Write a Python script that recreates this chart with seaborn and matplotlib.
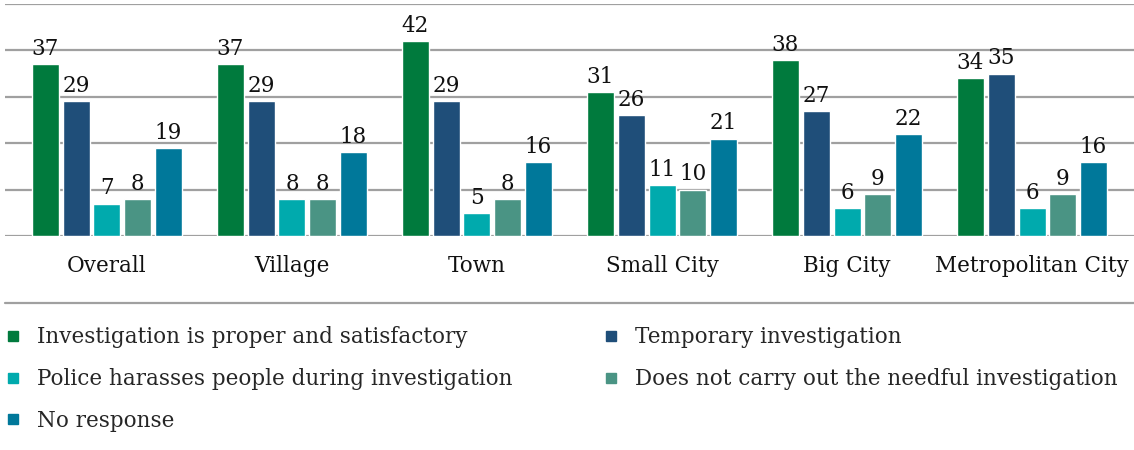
import pandas as pd
import matplotlib.pyplot as plt
import seaborn as sns
from matplotlib.lines import Line2D

# Daten
areas = ["Overall", "Village", "Town", "Small City", "Big City", "Metropolitan City"]
responses = [
    "Investigation is proper and satisfactory",
    "Temporary investigation",
    "Police harasses people during investigation",
    "Does not carry out the needful investigation",
    "No response",
]
proper = [37, 37, 42, 31, 38, 34]
temporary = [29, 29, 29, 26, 27, 35]
harasses = [7, 8, 5, 11, 6, 6]
not_needful = [8, 8, 8, 10, 9, 9]
no_response = [19, 18, 16, 21, 22, 16]

colors = ["#007A3D", "#1F4E79", "#00AAAD", "#4A9484", "#00789A"]

rows = []
for name, vals in zip(responses, [proper, temporary, harasses, not_needful, no_response]):
    for a, v in zip(areas, vals):
        rows.append({"area": a, "response": name, "value": v})
df = pd.DataFrame(rows)

sns.set_style("white")
plt.rcParams["font.family"] = ["DejaVu Serif"]
fs = 15.5

fig = plt.figure(figsize=(11.34, 4.5), dpi=100)
ax = fig.add_axes([5 / 1134, 214 / 450, 1 - 5 / 1134, 232 / 450])

sns.barplot(data=df, x="area", y="value", hue="response", hue_order=responses,
            order=areas, palette=colors, width=0.831, gap=0.122, ax=ax,
            legend=False, saturation=1, errorbar=None)

for c in ax.containers:
    ax.bar_label(c, fontsize=fs, padding=3, color="#111111")

ax.set_ylim(0, 50)
ax.set_xlim(-0.551, 5.551)
ax.set_yticks(range(0, 51, 10))
ax.set_yticklabels([])
ax.yaxis.grid(True, color="#A0A0A0", linewidth=1.6)
ax.set_axisbelow(True)
for s in ax.spines.values():
    s.set_visible(False)
ax.tick_params(axis="both", length=0)
ax.tick_params(axis="x", labelsize=fs, pad=14, colors="#111111")
ax.set_xlabel("")
ax.set_ylabel("")

# Trennlinie ueber der Legende
fig.add_artist(Line2D([5 / 1134, 1], [1 - 303 / 450] * 2, transform=fig.transFigure,
                      color="#A0A0A0", linewidth=1.6))

handles = [Line2D([], [], marker="s", linestyle="", markersize=7, color=colors[i])
           for i in [0, 2, 4, 1, 3]]
labels = [responses[i] for i in [0, 2, 4, 1, 3]]
fig.legend(handles, labels, ncol=2, loc="upper left", bbox_to_anchor=(0.0, 1 - 320 / 450),
           frameon=False, fontsize=fs, handlelength=0.6, handletextpad=0.8,
           columnspacing=4.3, labelspacing=0.91, borderaxespad=0, borderpad=0.3)

fig.savefig("out.png", dpi=100)
